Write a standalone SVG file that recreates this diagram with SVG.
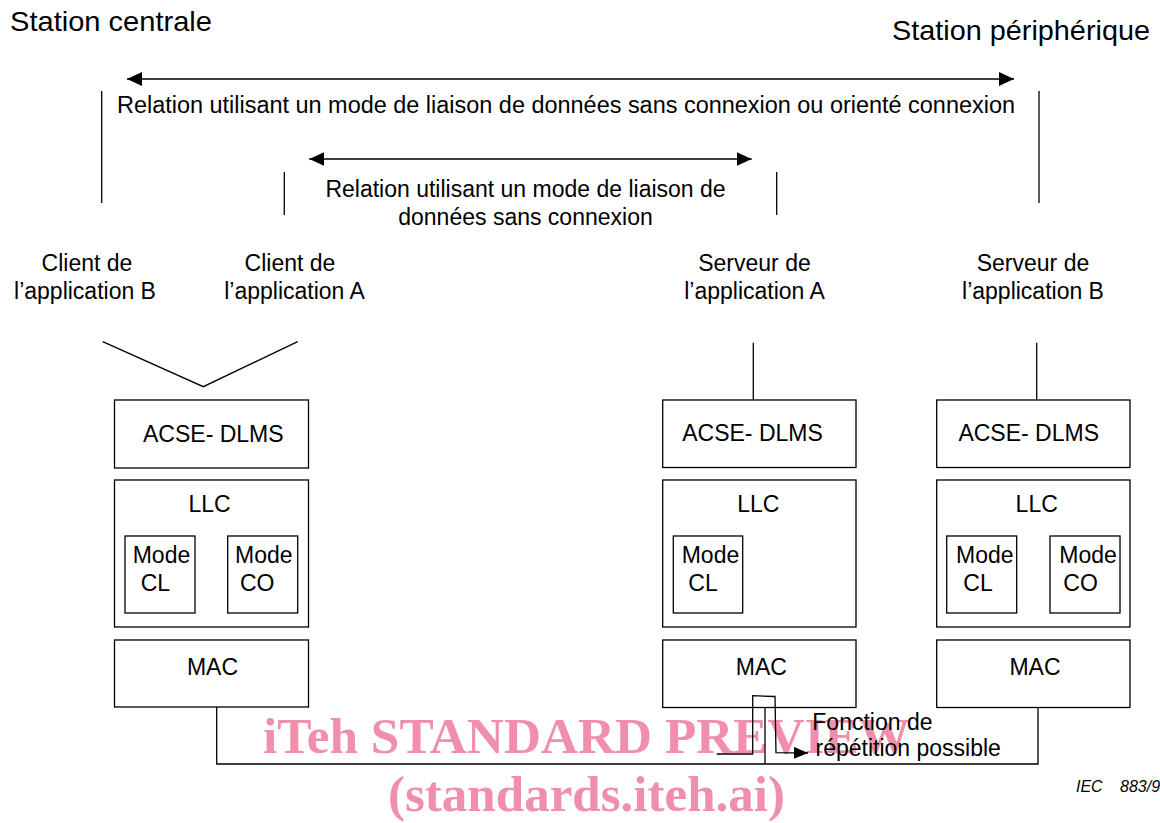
<svg xmlns="http://www.w3.org/2000/svg" width="1160" height="823" viewBox="0 0 1160 823">
<style>
text{font-family:"Liberation Sans",Arial,sans-serif;font-size:23px;fill:#000}
.t{font-size:28px}
.c{text-anchor:middle}
.box{fill:none;stroke:#000;stroke-width:1.3}
.ln{fill:none;stroke:#000;stroke-width:1.3}
.wm{font-family:"Liberation Serif","Times New Roman",serif;font-weight:bold;fill:#f08fab;font-size:50px}
.iec{font-size:16px;font-style:italic}
</style>
<defs>
<marker id="ah" markerUnits="userSpaceOnUse" markerWidth="15" markerHeight="14" refX="15" refY="7" orient="auto-start-reverse">
<path d="M0,0 L15,7 L0,14 z" fill="#000"/>
</marker>
<marker id="ahs" markerUnits="userSpaceOnUse" markerWidth="14" markerHeight="12" refX="14" refY="6" orient="auto">
<path d="M0,0 L14,6 L0,12 z" fill="#000"/>
</marker>
</defs>
<rect width="1160" height="823" fill="#fff"/>

<g id="watermark">
<text class="wm" x="263" y="753" textLength="647" lengthAdjust="spacingAndGlyphs">iTeh STANDARD PREVIEW</text>
<text class="wm" x="388" y="811" textLength="397" lengthAdjust="spacingAndGlyphs">(standards.iteh.ai)</text>
</g>

<g id="titles">
<text class="t" x="10" y="31" textLength="202" lengthAdjust="spacingAndGlyphs">Station centrale</text>
<text class="t" x="892" y="40" textLength="258" lengthAdjust="spacingAndGlyphs">Station périphérique</text>
</g>

<g id="relation-co">
<text x="117" y="113" textLength="898" lengthAdjust="spacingAndGlyphs">Relation utilisant un mode de liaison de données sans connexion ou orienté connexion</text>
</g>
<g id="relation-cl">
<text class="c" x="525.5" y="196.5">Relation utilisant un mode de liaison de</text>
<text class="c" x="525.5" y="224.5">données sans connexion</text>
</g>

<g id="client-b">
<text class="c" x="87" y="270.5">Client de</text>
<text class="c" x="85" y="298.5">l’application B</text>
</g>
<g id="client-a">
<text class="c" x="290" y="270.5">Client de</text>
<text class="c" x="294.5" y="298.5">l’application A</text>
</g>
<g id="serveur-a">
<text class="c" x="754.5" y="270.5">Serveur de</text>
<text class="c" x="754.5" y="298.5">l’application A</text>
</g>
<g id="serveur-b">
<text class="c" x="1033" y="270.5">Serveur de</text>
<text class="c" x="1033" y="298.5">l’application B</text>
</g>

<!-- Left stack (central station) -->
<g id="acse-central">
<rect class="box" x="114.5" y="400" width="194" height="68"/>
<text class="c" x="213.3" y="441.5">ACSE- DLMS</text>
</g>
<g id="llc-central">
<rect class="box" x="114.5" y="480" width="194" height="147"/>
<text class="c" x="209.5" y="511.7">LLC</text>
</g>
<g id="mode-cl-central">
<rect class="box" x="125" y="536" width="70" height="77"/>
<text x="132.7" y="562.7">Mode</text>
<text x="140.7" y="590.5">CL</text>
</g>
<g id="mode-co-central">
<rect class="box" x="227.7" y="536" width="70" height="77"/>
<text x="235" y="562.7">Mode</text>
<text x="240" y="590.5">CO</text>
</g>
<g id="mac-central">
<rect class="box" x="114.5" y="640" width="194" height="67"/>
<text class="c" x="212.5" y="675">MAC</text>
</g>

<!-- Middle stack -->
<g id="acse-a">
<rect class="box" x="662.7" y="400" width="193.3" height="67.5"/>
<text class="c" x="752.5" y="440.5">ACSE- DLMS</text>
</g>
<g id="llc-a">
<rect class="box" x="662.7" y="480" width="193.3" height="147"/>
<text class="c" x="758.3" y="511.7">LLC</text>
</g>
<g id="mode-cl-a">
<rect class="box" x="673.3" y="536" width="69.4" height="77"/>
<text x="681.7" y="562.7">Mode</text>
<text x="688.3" y="590.5">CL</text>
</g>
<g id="mac-a">
<rect class="box" x="662.7" y="640" width="193.3" height="67.5"/>
<text class="c" x="761.3" y="675">MAC</text>
</g>

<!-- Right stack -->
<g id="acse-b">
<rect class="box" x="936.7" y="400" width="193.3" height="67.5"/>
<text class="c" x="1028.7" y="440.5">ACSE- DLMS</text>
</g>
<g id="llc-b">
<rect class="box" x="936.7" y="480" width="193.3" height="147"/>
<text class="c" x="1036.7" y="511.7">LLC</text>
</g>
<g id="mode-cl-b">
<rect class="box" x="946.7" y="536" width="70" height="77"/>
<text x="956" y="562.7">Mode</text>
<text x="963.3" y="590.5">CL</text>
</g>
<g id="mode-co-b">
<rect class="box" x="1050" y="536" width="70" height="77"/>
<text x="1059.3" y="562.7">Mode</text>
<text x="1063.3" y="590.5">CO</text>
</g>
<g id="mac-b">
<rect class="box" x="936.7" y="640" width="193.3" height="67.5"/>
<text class="c" x="1035" y="675">MAC</text>
</g>

<g id="repetition-label">
<text x="812.3" y="730">Fonction de</text>
<text x="815.5" y="756">répétition possible</text>
</g>

<g id="connectors">
<line class="ln" x1="127" y1="79" x2="1014" y2="79" marker-start="url(#ah)" marker-end="url(#ah)"/>
<line class="ln" x1="101.7" y1="91" x2="101.7" y2="203"/>
<line class="ln" x1="1039" y1="91" x2="1039" y2="203"/>
<line class="ln" x1="309.3" y1="159" x2="751.7" y2="159" marker-start="url(#ah)" marker-end="url(#ah)"/>
<line class="ln" x1="284.3" y1="172" x2="284.3" y2="215"/>
<line class="ln" x1="776.7" y1="172" x2="776.7" y2="215"/>
<polyline class="ln" points="102.7,341.7 203.3,386.7 297.7,341.7"/>
<line class="ln" x1="753.3" y1="342.7" x2="753.3" y2="400"/>
<line class="ln" x1="1036.7" y1="342.7" x2="1036.7" y2="400"/>
<polyline class="ln" points="216.7,707 216.7,764 1038,764 1038,707.5"/>
<line class="ln" x1="765" y1="707.5" x2="765" y2="764"/>
<polyline class="ln" points="716.7,754 752.7,754 752.7,695.7 775,696.5 776,752.7 808,753" marker-end="url(#ahs)"/>
</g>

<g id="iec-ref">
<text class="iec" x="1076" y="792.3">IEC</text>
<text class="iec" x="1120" y="792.3">883/9</text>
</g>
</svg>
